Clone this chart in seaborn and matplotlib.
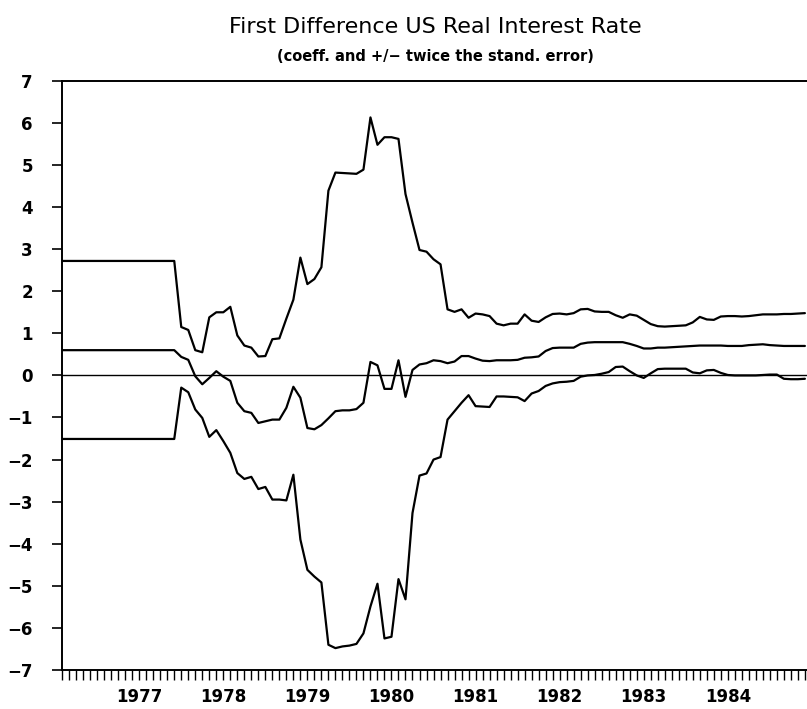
import numpy as np
import pandas as pd
import seaborn as sns
import matplotlib.pyplot as plt

# monthly observations, Feb 1976 .. Dec 1984
upper = [2.72] * 17 + [
    1.15, 1.08, 0.60, 0.55, 1.38, 1.50, 1.50, 1.63, 0.95, 0.71,
    0.66, 0.45, 0.46, 0.86, 0.88, 1.35, 1.80, 2.80, 2.17, 2.29,
    2.57, 4.39, 4.82, 4.81, 4.80, 4.79, 4.89, 6.13, 5.48, 5.66,
    5.66, 5.62, 4.31, 3.63, 2.98, 2.94, 2.76, 2.64, 1.57, 1.51,
    1.57, 1.37, 1.47, 1.45, 1.41, 1.23, 1.19, 1.23, 1.23, 1.45,
    1.30, 1.27, 1.38, 1.46, 1.47, 1.45, 1.48, 1.57, 1.58, 1.52,
    1.51, 1.51, 1.43, 1.37, 1.45, 1.42, 1.32, 1.22, 1.17, 1.16,
    1.17, 1.18, 1.19, 1.26, 1.39, 1.33, 1.32, 1.40, 1.41, 1.41,
    1.40, 1.41, 1.43, 1.45, 1.45, 1.45, 1.46, 1.46, 1.47, 1.48]

coeff = [0.60] * 17 + [
    0.44, 0.37, -0.02, -0.21, -0.06, 0.10, -0.03, -0.13, -0.65, -0.85,
    -0.89, -1.13, -1.09, -1.05, -1.05, -0.77, -0.27, -0.53, -1.25, -1.28,
    -1.18, -1.02, -0.85, -0.83, -0.83, -0.80, -0.65, 0.32, 0.24, -0.32,
    -0.32, 0.36, -0.51, 0.13, 0.26, 0.29, 0.36, 0.34, 0.29, 0.33,
    0.46, 0.46, 0.40, 0.35, 0.34, 0.36, 0.36, 0.36, 0.37, 0.42,
    0.43, 0.45, 0.58, 0.65, 0.66, 0.66, 0.66, 0.75, 0.78, 0.79,
    0.79, 0.79, 0.79, 0.79, 0.75, 0.70, 0.64, 0.64, 0.66, 0.66,
    0.67, 0.68, 0.69, 0.70, 0.71, 0.71, 0.71, 0.71, 0.70, 0.70,
    0.70, 0.72, 0.73, 0.74, 0.72, 0.71, 0.70, 0.70, 0.70, 0.70]

lower = [-1.51] * 17 + [
    -0.29, -0.40, -0.81, -1.01, -1.46, -1.30, -1.56, -1.84, -2.32, -2.46,
    -2.41, -2.70, -2.65, -2.95, -2.95, -2.97, -2.36, -3.90, -4.62, -4.78,
    -4.92, -6.40, -6.48, -6.44, -6.42, -6.38, -6.13, -5.49, -4.95, -6.25,
    -6.21, -4.84, -5.32, -3.27, -2.38, -2.33, -2.00, -1.94, -1.05, -0.85,
    -0.65, -0.47, -0.73, -0.74, -0.75, -0.50, -0.50, -0.51, -0.52, -0.61,
    -0.43, -0.37, -0.25, -0.19, -0.16, -0.15, -0.13, -0.03, 0.00, 0.01,
    0.04, 0.08, 0.20, 0.21, 0.10, 0.00, -0.06, 0.05, 0.15, 0.16,
    0.16, 0.16, 0.16, 0.07, 0.05, 0.12, 0.13, 0.06, 0.01, 0.00,
    0.00, 0.00, 0.00, 0.01, 0.02, 0.02, -0.08, -0.09, -0.09, -0.08]

years = [1977, 1978, 1979, 1980, 1981, 1982, 1983, 1984]

months = np.arange(len(coeff))
year_pos = [11 + 12 * i for i in range(len(years))]  # January of each year

sns.set_style("ticks")
plt.rcParams['font.family'] = ['DejaVu Sans']
plt.rcParams.update({'text.color': 'black', 'xtick.color': 'black',
                     'ytick.color': 'black', 'axes.edgecolor': 'black'})

fig = plt.figure(figsize=(8.07, 7.09), dpi=100)
ax = fig.add_axes([0.077, 0.055, 0.923, 0.831])

for s in [upper, coeff, lower]:
    sns.lineplot(x=months, y=s, color='black', linewidth=1.6, ax=ax)
ax.axhline(0, color='black', linewidth=1.0)

ax.set_xlim(0, 106.3)
ax.set_ylim(-7, 7)
ax.set_yticks(range(-7, 8))
ax.set_yticklabels([str(v).replace('-', '\u2212') for v in range(-7, 8)],
                   fontweight='bold', fontsize=12)
ax.set_xticks(months)
ax.set_xticklabels([str(years[year_pos.index(m)]) if m in year_pos else ''
                    for m in months], fontweight='bold', fontsize=12)
ax.tick_params(axis='y', direction='out', length=7, width=1.2, pad=14)
ax.tick_params(axis='x', direction='out', length=7, width=1.0, pad=6)

ax.spines['right'].set_visible(False)
for sp in ['left', 'bottom', 'top']:
    ax.spines[sp].set_linewidth(1.4)

fig.text(0.54, 0.962, 'First Difference US Real Interest Rate',
         ha='center', va='center', fontsize=16)
fig.text(0.54, 0.921, '(coeff. and +/\u2212 twice the stand. error)',
         ha='center', va='center', fontsize=10.5, fontweight='bold')

fig.savefig('out.png', dpi=100)
